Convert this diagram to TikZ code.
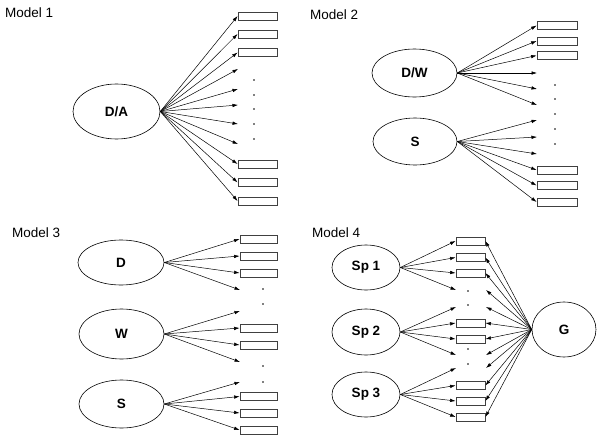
\documentclass[tikz,border=0pt]{standalone}
\usepackage{fontspec}
\setmainfont{Liberation Sans}
\usetikzlibrary{arrows.meta,shapes.geometric}
\begin{document}
\begin{tikzpicture}[x=1pt,y=-1pt,
 arr/.style={-{Latex[length=5.5pt,width=3.5pt]}, line width=0.5pt},
 lat/.style={draw, ellipse, line width=0.6pt, inner sep=0pt, font=\fontsize{13.5}{15}\selectfont\bfseries},
 box/.style={draw=black!75, fill=white, line width=0.8pt, minimum height=8pt, inner sep=0pt},
 ttl/.style={anchor=west, font=\fontsize{13.5}{15}\selectfont, inner sep=0pt},
 dot/.style={fill, circle, inner sep=0pt, minimum size=1.6pt}]
\useasboundingbox (0,0) rectangle (600,439);

% ---------------- Model 1 ----------------
\node[ttl] (t1) at (5,13) {Model 1};
\node[lat, minimum width=87pt, minimum height=55pt] (da) at (116.5,111.5) {D/A};
\foreach \y [count=\i] in {16,34,52.5,164,182.5,201}
  \node[box, minimum width=39pt] (m1b\i) at (257.5,\y) {};
\foreach \i in {1,...,6} \draw[arr] (da.east) -- (m1b\i.west);
\foreach \y [count=\i] in {69,89,105,124,144} {
  \coordinate (m1f\i) at (238,\y);
  \draw[arr] (da.east) -- (m1f\i);}
\foreach \y [count=\i] in {80,95,109,124,139}
  \node[dot] (m1d\i) at (254,\y) {};

% ---------------- Model 2 ----------------
\node[ttl] (t2) at (310,15) {Model 2};
\node[lat, minimum width=85pt, minimum height=48pt] (dw) at (414.5,73) {D/W};
\node[lat, minimum width=84pt, minimum height=47pt] (s2) at (415,141.5) {S};
\foreach \y [count=\i] in {25.5,41,55.5,170,185.5,202}
  \node[box, minimum width=40pt] (m2b\i) at (557,\y) {};
\foreach \i in {1,2,3} \draw[arr] (dw.east) -- (m2b\i.west);
\foreach \i in {4,5,6} \draw[arr] (s2.east) -- (m2b\i.west);
\foreach \y [count=\i] in {73,89,105} {
  \coordinate (m2f\i) at (537,\y);
  \draw[arr] (dw.east) -- (m2f\i);}
\foreach \y [count=\i] in {120,137,154} {
  \coordinate (m2g\i) at (537,\y);
  \draw[arr] (s2.east) -- (m2g\i);}
\foreach \y [count=\i] in {85,99,114,129,144}
  \node[dot] (m2d\i) at (555,\y) {};

% ---------------- Model 3 ----------------
\node[ttl] (t3) at (12,233) {Model 3};
\node[lat, minimum width=86pt, minimum height=45pt] (d3) at (121,262.5) {D};
\node[lat, minimum width=85pt, minimum height=50pt] (w3) at (121.5,334) {W};
\node[lat, minimum width=85pt, minimum height=48pt] (s3) at (121.5,404) {S};
\foreach \y [count=\i] in {239,256,273,328,345,396.5,413,430}
  \node[box, minimum width=37pt] (m3b\i) at (258.5,\y) {};
\foreach \i in {1,2,3} \draw[arr] (d3.east) -- (m3b\i.west);
\foreach \i in {4,5} \draw[arr] (w3.east) -- (m3b\i.west);
\foreach \i in {6,7,8} \draw[arr] (s3.east) -- (m3b\i.west);
\coordinate (m3f1) at (240,290);
\coordinate (m3f2) at (240,311);
\coordinate (m3f3) at (240,362);
\coordinate (m3f4) at (240,382);
\draw[arr] (d3.east) -- (m3f1);
\draw[arr] (w3.east) -- (m3f2);
\draw[arr] (w3.east) -- (m3f3);
\draw[arr] (s3.east) -- (m3f4);
\foreach \y [count=\i] in {289,304,366,382}
  \node[dot] (m3d\i) at (263,\y) {};

% ---------------- Model 4 ----------------
\node[ttl] (t4) at (312,233) {Model 4};
\node[lat, minimum width=68pt, minimum height=45pt] (sp1) at (366,267.5) {Sp 1};
\node[lat, minimum width=68pt, minimum height=46pt] (sp2) at (366,332) {Sp 2};
\node[lat, minimum width=68pt, minimum height=45pt] (sp3) at (366,394.5) {Sp 3};
\node[lat, minimum width=64pt, minimum height=55pt] (g) at (564,329.5) {G};
\foreach \y [count=\i] in {241,257.5,273,323,339,385.5,401,417}
  \node[box, minimum width=29pt] (m4b\i) at (470.5,\y) {};
\foreach \i in {1,2,3} \draw[arr] (sp1.east) -- (m4b\i.west);
\foreach \i in {4,5} \draw[arr] (sp2.east) -- (m4b\i.west);
\foreach \i in {6,7,8} \draw[arr] (sp3.east) -- (m4b\i.west);
\foreach \i in {1,...,8} \draw[arr] (g.west) -- (m4b\i.east);
\foreach \y [count=\i] in {290,307,355,368} {
  \coordinate (m4f\i) at (456,\y);
  \coordinate (m4r\i) at (486,\y);
  \draw[arr] (g.west) -- (m4r\i);}
\draw[arr] (sp1.east) -- (m4f1);
\draw[arr] (sp2.east) -- (m4f2);
\draw[arr] (sp2.east) -- (m4f3);
\draw[arr] (sp3.east) -- (m4f4);
\foreach \y [count=\i] in {291,305,349,364}
  \node[dot] (m4d\i) at (468,\y) {};
\end{tikzpicture}
\end{document}
